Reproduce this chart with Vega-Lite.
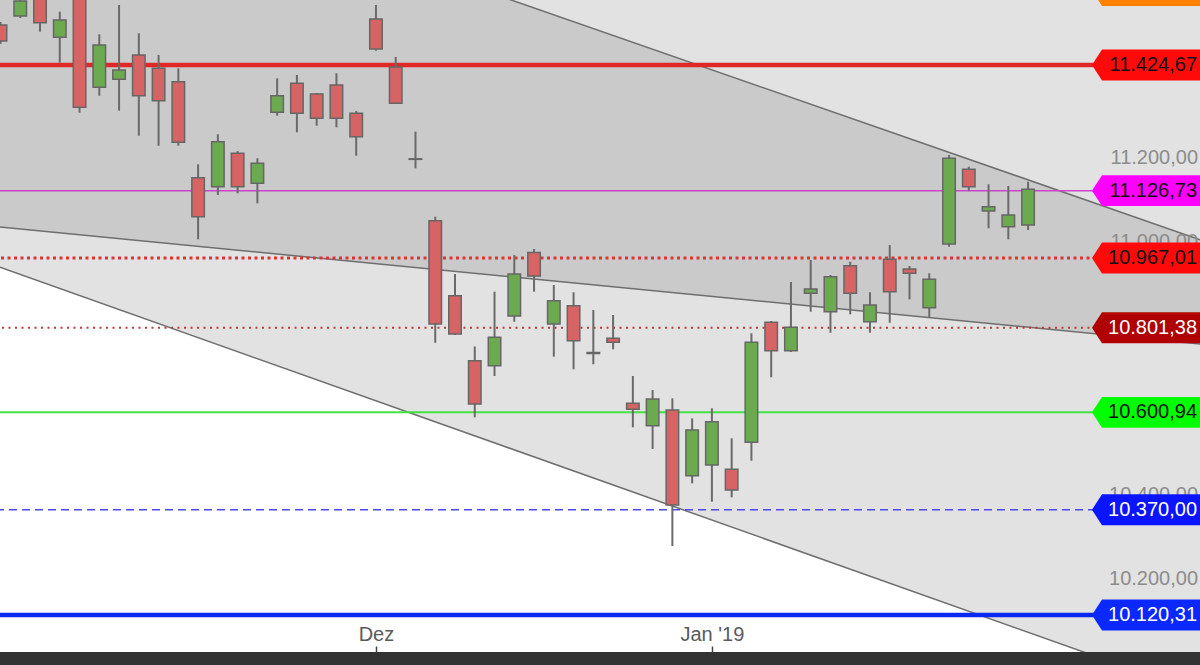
{
  "$schema": "https://vega.github.io/schema/vega-lite/v6.json",
  "width": 1200,
  "height": 652,
  "autosize": {"type": "none"},
  "padding": {"left": 0, "top": 0, "right": 0, "bottom": 13},
  "background": "#333333",
  "config": {
    "view": {"fill": "#e2e2e2", "stroke": null},
    "font": "Liberation Sans",
    "locale": {"number": {"decimal": ",", "thousands": ".", "grouping": [3], "currency": ["", " €"]}}
  },
  "datasets": {
    "candles": [
      {"n":0,"date":"2018-11-06","open":11519.5,"high":11526.6,"low":11474.5,"close":11481.6},
      {"n":1,"date":"2018-11-07","open":11540.9,"high":11588.3,"low":11536.1,"close":11576.4},
      {"n":2,"date":"2018-11-08","open":11590.7,"high":11602.5,"low":11503.6,"close":11525.0},
      {"n":3,"date":"2018-11-09","open":11490.4,"high":11551.1,"low":11430.1,"close":11531.4},
      {"n":4,"date":"2018-11-12","open":11590.7,"high":11607.3,"low":11311.5,"close":11324.3},
      {"n":5,"date":"2018-11-13","open":11371.8,"high":11497.5,"low":11351.9,"close":11472.1},
      {"n":6,"date":"2018-11-14","open":11390.7,"high":11567.0,"low":11316.3,"close":11412.8},
      {"n":7,"date":"2018-11-15","open":11448.4,"high":11499.8,"low":11257.0,"close":11351.9},
      {"n":8,"date":"2018-11-16","open":11416.8,"high":11448.4,"low":11233.3,"close":11340.0},
      {"n":9,"date":"2018-11-19","open":11385.1,"high":11416.8,"low":11233.3,"close":11241.3},
      {"n":10,"date":"2018-11-20","open":11157.4,"high":11189.2,"low":11011.3,"close":11064.9},
      {"n":11,"date":"2018-11-21","open":11136.1,"high":11260.3,"low":11116.4,"close":11242.8},
      {"n":12,"date":"2018-11-22","open":11215.3,"high":11220.7,"low":11120.4,"close":11136.1},
      {"n":13,"date":"2018-11-23","open":11144.1,"high":11203.4,"low":11096.7,"close":11191.5},
      {"n":14,"date":"2018-11-26","open":11312.5,"high":11393.1,"low":11304.4,"close":11351.9},
      {"n":15,"date":"2018-11-27","open":11381.3,"high":11401.0,"low":11265.1,"close":11310.1},
      {"n":16,"date":"2018-11-28","open":11355.9,"high":11358.3,"low":11280.7,"close":11298.3},
      {"n":17,"date":"2018-11-29","open":11377.2,"high":11405.0,"low":11276.9,"close":11298.3},
      {"n":18,"date":"2018-11-30","open":11310.1,"high":11315.6,"low":11209.6,"close":11254.6},
      {"n":19,"date":"2018-12-03","open":11533.7,"high":11567.0,"low":11458.6,"close":11462.6},
      {"n":20,"date":"2018-12-04","open":11419.9,"high":11443.6,"low":11332.2,"close":11333.8},
      {"n":21,"date":"2018-12-05","open":11202.2,"high":11266.5,"low":11179.7,"close":11201.0},
      {"n":22,"date":"2018-12-06","open":11055.4,"high":11064.9,"low":10766.1,"close":10810.5},
      {"n":23,"date":"2018-12-07","open":10877.6,"high":10929.0,"low":10784.4,"close":10786.8},
      {"n":24,"date":"2018-12-10","open":10723.5,"high":10757.0,"low":10589.2,"close":10620.8},
      {"n":25,"date":"2018-12-11","open":10711.6,"high":10887.1,"low":10687.2,"close":10779.0},
      {"n":26,"date":"2018-12-12","open":10829.4,"high":10974.1,"low":10815.9,"close":10929.0},
      {"n":27,"date":"2018-12-13","open":10980.0,"high":10988.3,"low":10887.1,"close":10924.3},
      {"n":28,"date":"2018-12-14","open":10810.5,"high":10903.0,"low":10733.0,"close":10865.7},
      {"n":29,"date":"2018-12-17","open":10853.9,"high":10885.7,"low":10703.0,"close":10770.9},
      {"n":30,"date":"2018-12-18","open":10742.9,"high":10843.7,"low":10714.9,"close":10740.5},
      {"n":31,"date":"2018-12-19","open":10776.5,"high":10831.8,"low":10750.5,"close":10767.1},
      {"n":32,"date":"2018-12-20","open":10622.4,"high":10687.2,"low":10565.5,"close":10608.2},
      {"n":33,"date":"2018-12-21","open":10569.3,"high":10653.9,"low":10514.1,"close":10632.6},
      {"n":34,"date":"2018-12-27","open":10606.5,"high":10634.3,"low":10284.0,"close":10381.3},
      {"n":35,"date":"2018-12-28","open":10450.7,"high":10586.8,"low":10432.7,"close":10559.1},
      {"n":36,"date":"2019-01-02","open":10476.1,"high":10610.6,"low":10389.1,"close":10578.8},
      {"n":37,"date":"2019-01-03","open":10465.9,"high":10539.4,"low":10399.5,"close":10416.9},
      {"n":38,"date":"2019-01-04","open":10529.9,"high":10788.4,"low":10486.3,"close":10767.1},
      {"n":39,"date":"2019-01-07","open":10814.5,"high":10817.6,"low":10684.1,"close":10747.2},
      {"n":40,"date":"2019-01-08","open":10747.2,"high":10910.1,"low":10744.1,"close":10802.7},
      {"n":41,"date":"2019-01-09","open":10883.2,"high":10962.2,"low":10839.7,"close":10893.5},
      {"n":42,"date":"2019-01-10","open":10839.7,"high":10926.7,"low":10789.8,"close":10922.6},
      {"n":43,"date":"2019-01-11","open":10948.7,"high":10958.2,"low":10833.5,"close":10883.2},
      {"n":44,"date":"2019-01-14","open":10815.9,"high":10885.7,"low":10789.8,"close":10855.3},
      {"n":45,"date":"2019-01-15","open":10963.9,"high":10997.8,"low":10813.6,"close":10887.1},
      {"n":46,"date":"2019-01-16","open":10940.9,"high":10948.0,"low":10869.0,"close":10930.7},
      {"n":47,"date":"2019-01-17","open":10849.1,"high":10930.7,"low":10826.4,"close":10916.5},
      {"n":48,"date":"2019-01-18","open":11000.2,"high":11211.2,"low":10993.8,"close":11203.4},
      {"n":49,"date":"2019-01-21","open":11177.3,"high":11183.5,"low":11126.6,"close":11136.1},
      {"n":50,"date":"2019-01-22","open":11078.4,"high":11141.7,"low":11037.4,"close":11088.6},
      {"n":51,"date":"2019-01-23","open":11041.2,"high":11137.7,"low":11011.3,"close":11069.0},
      {"n":52,"date":"2019-01-24","open":11045.2,"high":11147.9,"low":11033.4,"close":11129.9}
    ],
    "channel": [
      {"n": -0.025, "upper": 12000.7, "middle": 11040.5, "lower": 10944.9},
      {"n": 60.7, "upper": 11010.4, "middle": 10763.0, "lower": 9934.7}
    ],
    "levels": [
      {"kind": "k0", "level": 11601.3, "label": ""},
      {"kind": "k1", "level": 11424.67, "label": "11.424,67"},
      {"kind": "k2", "level": 11126.73, "label": "11.126,73"},
      {"kind": "k3", "level": 10967.01, "label": "10.967,01"},
      {"kind": "k4", "level": 10801.38, "label": "10.801,38"},
      {"kind": "k5", "level": 10600.94, "label": "10.600,94"},
      {"kind": "k6", "level": 10370.00, "label": "10.370,00"},
      {"kind": "k7", "level": 10120.31, "label": "10.120,31"}
    ],
    "ticks": [
      {"v": 10200}, {"v": 10400}, {"v": 11000}, {"v": 11200}
    ]
  },
  "layer": [
    {
      "data": {"name": "channel"},
      "mark": {"type": "area", "color": "#ffffff", "clip": true},
      "encoding": {
        "x": {"field": "n", "type": "quantitative", "scale": {"domain": [-0.025, 60.7], "nice": false, "zero": false, "padding": 0},
              "axis": {"values": [19, 36], "labelExpr": "datum.value == 19 ? 'Dez' : 'Jan \\'19'", "title": null, "grid": false, "domain": false, "ticks": true, "tickSize": -6, "tickColor": "#444444", "tickWidth": 1.5, "labelPadding": -12, "labelBaseline": "middle", "labelFontSize": 20, "labelColor": "#5a5a5a", "labelFont": "Liberation Sans", "zindex": 1}},
        "y": {"field": "lower", "type": "quantitative", "scale": {"domain": [10032.7, 11578.8], "nice": false, "zero": false, "padding": 0}, "axis": null},
        "y2": {"datum": 9000}
      }
    },
    {
      "data": {"name": "channel"},
      "mark": {"type": "area", "color": "#cacaca", "clip": true},
      "encoding": {
        "x": {"field": "n", "type": "quantitative"},
        "y": {"field": "upper", "type": "quantitative", "axis": null},
        "y2": {"field": "middle"}
      }
    },
    {
      "data": {"name": "channel"},
      "mark": {"type": "line", "color": "#6e6e6e", "strokeWidth": 1.5, "clip": true},
      "encoding": {
        "x": {"field": "n", "type": "quantitative"},
        "y": {"field": "upper", "type": "quantitative", "axis": null}
      }
    },
    {
      "data": {"name": "channel"},
      "mark": {"type": "line", "color": "#6e6e6e", "strokeWidth": 1.5, "clip": true},
      "encoding": {
        "x": {"field": "n", "type": "quantitative"},
        "y": {"field": "middle", "type": "quantitative", "axis": null}
      }
    },
    {
      "data": {"name": "channel"},
      "mark": {"type": "line", "color": "#6e6e6e", "strokeWidth": 1.5, "clip": true},
      "encoding": {
        "x": {"field": "n", "type": "quantitative"},
        "y": {"field": "lower", "type": "quantitative", "axis": null}
      }
    },
    {
      "data": {"name": "levels"},
      "mark": {"type": "rule", "clip": true},
      "encoding": {
        "y": {"field": "level", "type": "quantitative", "axis": null},
        "stroke": {"field": "kind", "type": "nominal", "legend": null,
          "scale": {"domain": ["k0","k1","k2","k3","k4","k5","k6","k7"],
                    "range": ["#ff7f00","#e02828","#cc44cc","#dd3333","#c03838","#44e044","#4a4aee","#0a28f0"]}},
        "strokeWidth": {"field": "kind", "type": "nominal", "legend": null,
          "scale": {"type": "ordinal", "domain": ["k0","k1","k2","k3","k4","k5","k6","k7"],
                    "range": [3, 4.5, 1.5, 3, 2, 2, 1.5, 4.5]}},
        "strokeDash": {"field": "kind", "type": "nominal", "legend": null,
          "scale": {"domain": ["k0","k1","k2","k3","k4","k5","k6","k7"],
                    "range": [[1,0],[1,0],[1,0],[3,3.5],[2,4.5],[1,0],[8,5],[1,0]]}}
      }
    },
    {
      "data": {"name": "candles"},
      "mark": {"type": "rule", "color": "#6a6a6a", "strokeWidth": 2, "clip": true},
      "encoding": {
        "x": {"field": "n", "type": "quantitative"},
        "y": {"field": "high", "type": "quantitative", "axis": null},
        "y2": {"field": "low"}
      }
    },
    {
      "data": {"name": "candles"},
      "transform": [{"filter": "datum.close >= datum.open"}],
      "mark": {"type": "bar", "width": 12.5, "fill": "#6caa50", "stroke": "#666666", "strokeWidth": 1.5, "clip": true},
      "encoding": {
        "x": {"field": "n", "type": "quantitative"},
        "y": {"field": "open", "type": "quantitative", "axis": null},
        "y2": {"field": "close"}
      }
    },
    {
      "data": {"name": "candles"},
      "transform": [{"filter": "datum.close < datum.open"}],
      "mark": {"type": "bar", "width": 12.5, "fill": "#d66464", "stroke": "#666666", "strokeWidth": 1.5, "clip": true},
      "encoding": {
        "x": {"field": "n", "type": "quantitative"},
        "y": {"field": "open", "type": "quantitative", "axis": null},
        "y2": {"field": "close"}
      }
    },
    {
      "data": {"name": "ticks"},
      "mark": {"type": "text", "align": "right", "baseline": "middle", "fontSize": 20, "color": "#8c8c8c", "dy": -2, "font": "Liberation Sans"},
      "encoding": {
        "x": {"datum": 60.6, "type": "quantitative"},
        "y": {"field": "v", "type": "quantitative", "axis": null},
        "text": {"field": "v", "type": "quantitative", "format": ",.2f"}
      }
    },
    {
      "data": {"name": "levels"},
      "mark": {"type": "point", "shape": "M-1,0L-0.833,-0.258L1,-0.258L1,0.258L-0.833,0.258Z", "size": 14400, "filled": true, "opacity": 1, "strokeWidth": 0, "clip": true},
      "encoding": {
        "x": {"datum": 58.27, "type": "quantitative"},
        "y": {"field": "level", "type": "quantitative", "axis": null},
        "fill": {"field": "kind", "type": "nominal", "legend": null,
          "scale": {"domain": ["k0","k1","k2","k3","k4","k5","k6","k7"],
                    "range": ["#ff7f00","#ff0a0a","#ff00ff","#ff0a0a","#b00000","#00ff00","#0a14ff","#0a28ff"]}}
      }
    },
    {
      "data": {"name": "levels"},
      "mark": {"type": "text", "align": "right", "baseline": "middle", "fontSize": 20, "font": "Liberation Sans", "clip": true},
      "encoding": {
        "x": {"datum": 60.55, "type": "quantitative"},
        "y": {"field": "level", "type": "quantitative", "axis": null},
        "text": {"field": "label"},
        "color": {"field": "kind", "type": "nominal", "legend": null,
          "scale": {"domain": ["k0","k1","k2","k3","k4","k5","k6","k7"],
                    "range": ["#111111","#111111","#111111","#111111","#ffffff","#111111","#ffffff","#ffffff"]}}
      }
    }
  ],
  "resolve": {"scale": {"color": "independent", "fill": "independent", "stroke": "independent", "strokeWidth": "independent", "strokeDash": "independent"}}
}
